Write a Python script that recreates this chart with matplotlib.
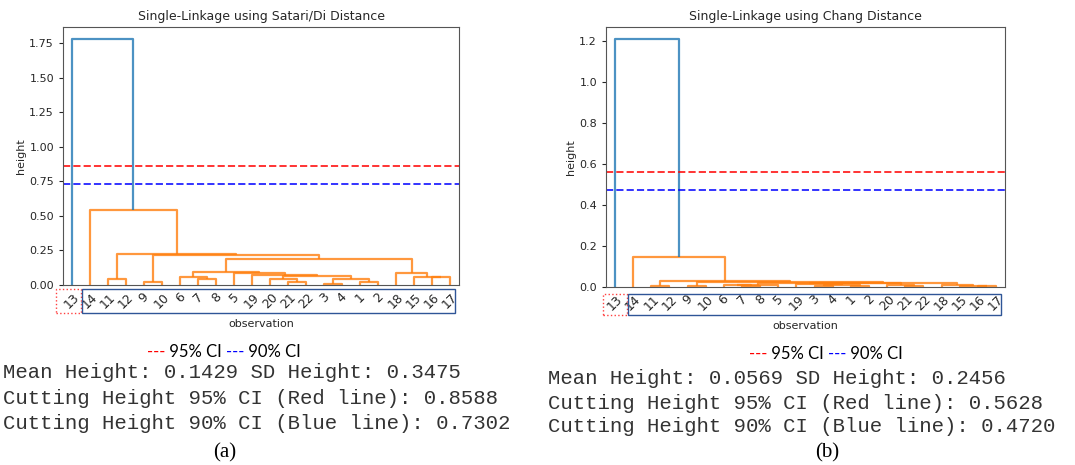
import matplotlib
matplotlib.use("Agg")
import matplotlib.pyplot as plt
from matplotlib.patches import Rectangle

# ---------------- data ----------------
leaves_a = [13, 14, 11, 12, 9, 10, 6, 7, 8, 5, 19, 20, 21, 22, 3, 4, 1, 2, 18, 15, 16, 17]
a_left = ["11", "9", "7", "6", "3", "1", "c4", "21", "20", "c8", "19", "5", "c3",
          "16", "15", "18", "c12", "c1", "c0", "14", "13"]
a_right = ["12", "10", "8", "c2", "4", "2", "c5", "22", "c7", "c6", "c9", "c10", "c11",
           "17", "c13", "c14", "c15", "c16", "c17", "c18", "c19"]
a_height = [0.040, 0.020, 0.040, 0.058, 0.005, 0.020, 0.045, 0.022, 0.045, 0.062, 0.072,
            0.087, 0.092, 0.055, 0.058, 0.090, 0.190, 0.215, 0.222, 0.545, 1.78]
a_cut95 = 0.8588
a_cut90 = 0.7302

leaves_b = [13, 14, 11, 12, 9, 10, 6, 7, 8, 5, 19, 3, 4, 1, 2, 20, 21, 22, 18, 15, 16, 17]
b_left = ["11", "9", "7", "6", "c3", "3", "1", "c5", "19", "21", "20", "c8", "c4",
          "16", "15", "18", "c12", "c1", "c0", "14", "13"]
b_right = ["12", "10", "8", "c2", "5", "4", "2", "c6", "c7", "22", "c9", "c10", "c11",
           "17", "c13", "c14", "c15", "c16", "c17", "c18", "c19"]
b_height = [0.005, 0.005, 0.003, 0.008, 0.010, 0.005, 0.006, 0.012, 0.015, 0.006, 0.010,
            0.018, 0.020, 0.004, 0.006, 0.012, 0.020, 0.022, 0.027, 0.145, 1.21]
b_cut95 = 0.5628
b_cut90 = 0.4720

titles = ["Single-Linkage using Satari/Di Distance", "Single-Linkage using Chang Distance"]
stats_a = ["Mean Height: 0.1429 SD Height: 0.3475",
           "Cutting Height 95% CI (Red line): 0.8588",
           "Cutting Height 90% CI (Blue line): 0.7302"]
stats_b = ["Mean Height: 0.0569 SD Height: 0.2456",
           "Cutting Height 95% CI (Red line): 0.5628",
           "Cutting Height 90% CI (Blue line): 0.4720"]
captions = ["(a)", "(b)"]

W, H = 1075, 465
fig = plt.figure(figsize=(W / 100, H / 100), dpi=100)

TXT = "#262626"


def fx(px):
    return px / W


def fy(py):
    return 1 - py / H


def draw_dendro(ax, leaves, left, right, height, cut95, cut90, title):
    pos = {str(l): (5 + 10 * i, 0.0) for i, l in enumerate(leaves)}
    hmax = max(height)
    thr = 0.7 * hmax
    for i, (l, r, h) in enumerate(zip(left, right, height)):
        xl, hl = pos[l]
        xr, hr = pos[r]
        col = "#ff7f0e" if h < thr else "#1f77b4"
        ax.plot([xl, xl, xr, xr], [hl, h, h, hr], color=col, lw=1.6, alpha=0.8,
                solid_capstyle="butt")
        pos["c%d" % i] = ((xl + xr) / 2, h)
    ax.axhline(cut95, color="red", ls="--", lw=1.4, alpha=0.8)
    ax.axhline(cut90, color="blue", ls="--", lw=1.4, alpha=0.8)
    ax.set_xlim(0, 10 * len(leaves))
    ax.set_ylim(0, hmax * 1.05)
    ax.set_xticks([5 + 10 * i for i in range(len(leaves))])
    ax.set_xticklabels([str(l) for l in leaves], rotation=45, fontsize=9, color=TXT)
    ax.tick_params(axis="x", length=0, pad=4)
    ax.tick_params(axis="y", labelsize=8, colors=TXT, length=3)
    for s in ax.spines.values():
        s.set_color("#555555")
    ax.set_title(title, fontsize=9, color=TXT, pad=5)
    ax.set_ylabel("height", fontsize=8, color=TXT, labelpad=2)
    ax.set_xlabel("observation", fontsize=8, color=TXT, labelpad=6)


ax1 = fig.add_axes([fx(63), fy(285), fx(459 - 63), (285 - 27) / H])
ax2 = fig.add_axes([fx(606), fy(287), fx(1005 - 606), (287 - 27) / H])
draw_dendro(ax1, leaves_a, a_left, a_right, a_height, a_cut95, a_cut90, titles[0])
draw_dendro(ax2, leaves_b, b_left, b_right, b_height, b_cut95, b_cut90, titles[1])
ax1.set_yticks([0, 0.25, 0.5, 0.75, 1.0, 1.25, 1.5, 1.75])
ax1.set_yticklabels(["0.00", "0.25", "0.50", "0.75", "1.00", "1.25", "1.50", "1.75"])

# label boxes
def box(x0, y0, x1, y1, color, ls, lw):
    fig.add_artist(Rectangle((fx(x0), fy(y1)), fx(x1 - x0), (y1 - y0) / H,
                             transform=fig.transFigure, fill=False,
                             edgecolor=color, ls=ls, lw=lw))

box(56, 289, 81, 313, "#ff4040", ":", 1.0)
box(82, 289, 455, 313, "#2f5597", "-", 1.0)
box(603, 294, 627, 315, "#ff4040", ":", 1.0)
box(628, 294, 1001, 315, "#2f5597", "-", 1.0)

# legends built from pieces
fig.canvas.draw()
renderer = fig.canvas.get_renderer()


def legend(cx, cy):
    pieces = [("---", "red"), (" 95% CI ", "black"), ("---", "blue"), (" 90% CI", "black")]
    texts = []
    for s, c in pieces:
        t = fig.text(0, fy(cy), s, color=c, family="Lato", fontsize=12, va="center")
        texts.append(t)
    widths = [t.get_window_extent(renderer).width for t in texts]
    total = sum(widths)
    x = cx - total / 2
    for t, w in zip(texts, widths):
        t.set_x(fx(x))
        x += w

legend(224, 352)
legend(826, 354)

for i, s in enumerate(stats_a):
    fig.text(fx(3), fy([373, 399, 423][i]), s, family="Liberation Mono",
             fontsize=14.9, va="center", color="#333333")
for i, s in enumerate(stats_b):
    fig.text(fx(548), fy([378, 403, 426][i]), s, family="Liberation Mono",
             fontsize=14.9, va="center", color="#333333")

fig.text(fx(225), fy(453), captions[0], family="Liberation Serif", fontsize=15,
         ha="center", va="center")
fig.text(fx(827), fy(453), captions[1], family="Liberation Serif", fontsize=15,
         ha="center", va="center")

fig.savefig("out.png", dpi=100)
